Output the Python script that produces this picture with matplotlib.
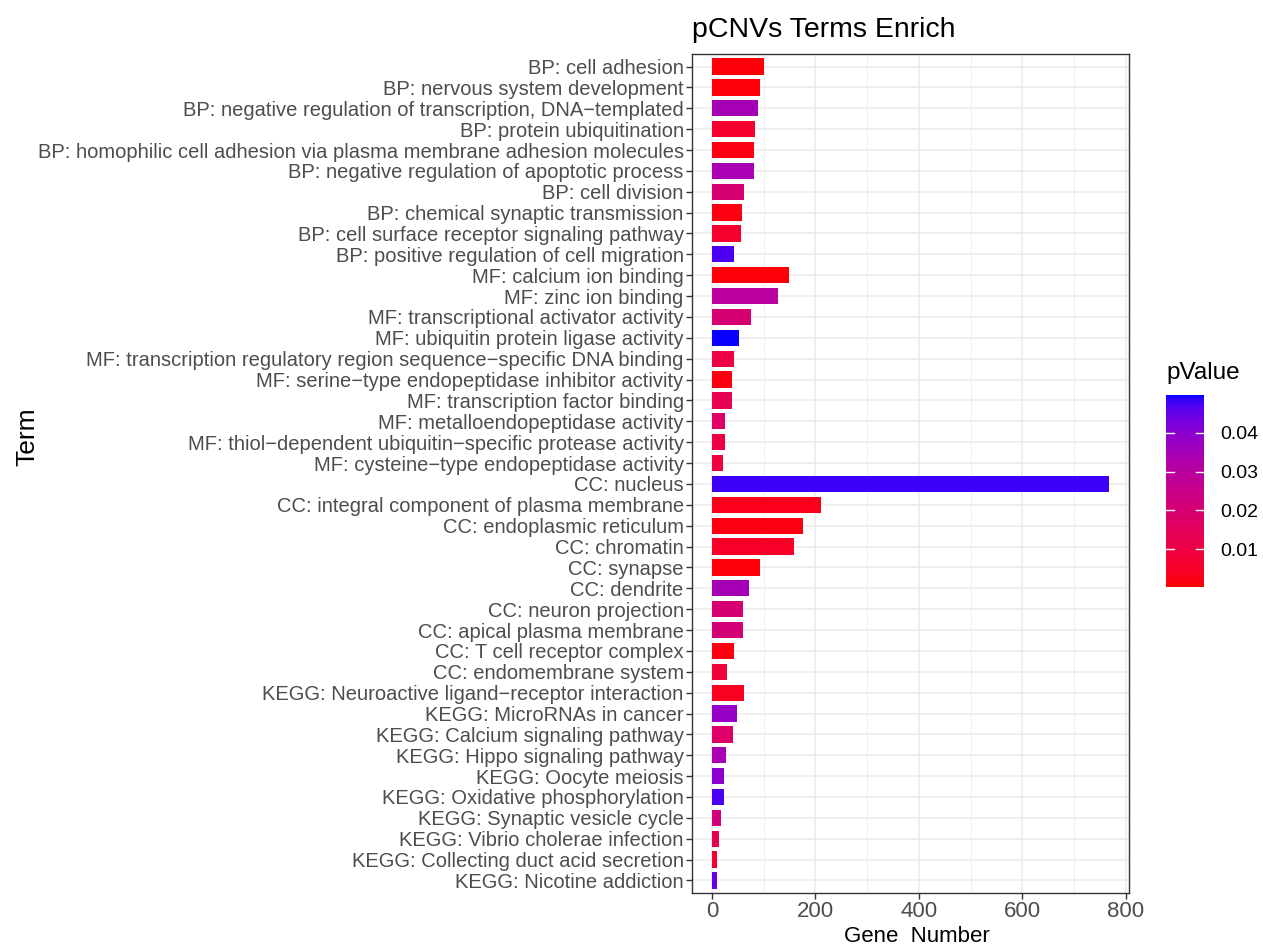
import numpy as np
import matplotlib
matplotlib.use("Agg")
import matplotlib.pyplot as plt
from matplotlib.colors import LinearSegmentedColormap, Normalize
from matplotlib.ticker import MultipleLocator

plt.rcParams['font.family'] = ['Liberation Sans', 'DejaVu Sans']

# data, top to bottom as drawn
terms = [
    'BP: cell adhesion',
    'BP: nervous system development',
    'BP: negative regulation of transcription, DNA\u2212templated',
    'BP: protein ubiquitination',
    'BP: homophilic cell adhesion via plasma membrane adhesion molecules',
    'BP: negative regulation of apoptotic process',
    'BP: cell division',
    'BP: chemical synaptic transmission',
    'BP: cell surface receptor signaling pathway',
    'BP: positive regulation of cell migration',
    'MF: calcium ion binding',
    'MF: zinc ion binding',
    'MF: transcriptional activator activity',
    'MF: ubiquitin protein ligase activity',
    'MF: transcription regulatory region sequence\u2212specific DNA binding',
    'MF: serine\u2212type endopeptidase inhibitor activity',
    'MF: transcription factor binding',
    'MF: metalloendopeptidase activity',
    'MF: thiol\u2212dependent ubiquitin\u2212specific protease activity',
    'MF: cysteine\u2212type endopeptidase activity',
    'CC: nucleus',
    'CC: integral component of plasma membrane',
    'CC: endoplasmic reticulum',
    'CC: chromatin',
    'CC: synapse',
    'CC: dendrite',
    'CC: neuron projection',
    'CC: apical plasma membrane',
    'CC: T cell receptor complex',
    'CC: endomembrane system',
    'KEGG: Neuroactive ligand\u2212receptor interaction',
    'KEGG: MicroRNAs in cancer',
    'KEGG: Calcium signaling pathway',
    'KEGG: Hippo signaling pathway',
    'KEGG: Oocyte meiosis',
    'KEGG: Oxidative phosphorylation',
    'KEGG: Synaptic vesicle cycle',
    'KEGG: Vibrio cholerae infection',
    'KEGG: Collecting duct acid secretion',
    'KEGG: Nicotine addiction',
]

gene_number = [100, 94, 89, 84, 82, 81, 62, 59, 57, 43,
               150, 127, 76, 53, 43, 39, 39, 26, 25, 22,
               768, 211, 177, 159, 93, 72, 61, 61, 43, 30,
               63, 49, 40, 28, 24, 24, 17, 13, 10, 10]

pvalue = [0.001, 0.001, 0.035, 0.006, 0.002, 0.034, 0.020, 0.002, 0.006, 0.047,
          0.001, 0.030, 0.020, 0.0495, 0.010, 0.002, 0.013, 0.017, 0.010, 0.009,
          0.048, 0.003, 0.002, 0.005, 0.001, 0.035, 0.020, 0.021, 0.002, 0.008,
          0.004, 0.038, 0.018, 0.034, 0.040, 0.047, 0.022, 0.013, 0.006, 0.045]

p_min, p_max = 0.0003, 0.0497


# red -> blue gradient interpolated in Lab like ggplot's scale_fill_gradient
def srgb_to_lab(rgb):
    c = np.asarray(rgb, float)
    lin = np.where(c <= 0.04045, c / 12.92, ((c + 0.055) / 1.055) ** 2.4)
    M = np.array([[0.4124, 0.3576, 0.1805],
                  [0.2126, 0.7152, 0.0722],
                  [0.0193, 0.1192, 0.9505]])
    xyz = M @ lin / np.array([0.95047, 1.0, 1.08883])
    f = np.where(xyz > 0.008856, np.cbrt(xyz), 7.787 * xyz + 16 / 116)
    return np.array([116 * f[1] - 16, 500 * (f[0] - f[1]), 200 * (f[1] - f[2])])


def lab_to_srgb(lab):
    L, a, b = lab
    fy = (L + 16) / 116
    fx = fy + a / 500
    fz = fy - b / 200
    f = np.array([fx, fy, fz])
    xyz = np.where(f ** 3 > 0.008856, f ** 3, (f - 16 / 116) / 7.787)
    xyz = xyz * np.array([0.95047, 1.0, 1.08883])
    Minv = np.array([[3.2406, -1.5372, -0.4986],
                     [-0.9689, 1.8758, 0.0415],
                     [0.0557, -0.2040, 1.0570]])
    lin = np.clip(Minv @ xyz, 0, 1)
    c = np.where(lin <= 0.0031308, 12.92 * lin, 1.055 * lin ** (1 / 2.4) - 0.055)
    return np.clip(c, 0, 1)


lab_lo = srgb_to_lab([1, 0, 0])
lab_hi = srgb_to_lab([0, 0, 1])
stops = [lab_to_srgb(lab_lo + t * (lab_hi - lab_lo)) for t in np.linspace(0, 1, 64)]
cmap = LinearSegmentedColormap.from_list('redblue', stops)
norm = Normalize(vmin=p_min, vmax=p_max)

W, H = 1263, 949
fig = plt.figure(figsize=(W / 100, H / 100), dpi=100)
ax = fig.add_axes([692 / W, 1 - 893 / H, (1129 - 692) / W, (893 - 54) / H])

n = len(terms)
ypos = np.arange(n)[::-1]
ax.barh(ypos, gene_number, height=0.78, color=cmap(norm(np.array(pvalue))),
        zorder=3)

xmax = max(gene_number)
ax.set_xlim(-0.05 * xmax, 1.05 * xmax)
ax.set_ylim(-0.6, n - 1 + 0.6)
ax.set_yticks(ypos)
ax.set_yticklabels(terms)
ax.xaxis.set_major_locator(MultipleLocator(200))
ax.xaxis.set_minor_locator(MultipleLocator(100))

ax.grid(True, which='major', color='#EBEBEB', linewidth=1.1, zorder=0)
ax.grid(True, which='minor', axis='x', color='#F0F0F0', linewidth=0.7, zorder=0)
ax.set_axisbelow(True)
for s in ax.spines.values():
    s.set_color('#333333')
    s.set_linewidth(1.0)

ax.tick_params(axis='both', which='major', length=4, width=1, color='#333333',
               labelcolor='#4D4D4D', labelsize=14.5, pad=2)
ax.tick_params(axis='x', labelsize=16, pad=2)
ax.tick_params(axis='x', which='minor', length=0)

fig.text(917 / W, 1 - 937 / H, 'Gene  Number', fontsize=16,
         ha='center', va='center')
fig.text(27 / W, 1 - 437 / H, 'Term', rotation=90, fontsize=19,
         ha='center', va='center')
fig.text(692 / W, 1 - 30 / H, 'pCNVs Terms Enrich', fontsize=20.5,
         ha='left', va='center')

# colour bar legend
cax = fig.add_axes([1166 / W, 1 - 587 / H, 38 / W, 192 / H])
grad = np.linspace(p_min, p_max, 256).reshape(-1, 1)
cax.imshow(grad, aspect='auto', cmap=cmap, norm=norm, origin='lower',
           extent=[0, 1, p_min, p_max])
cax.set_xlim(0, 1)
cax.set_ylim(p_min, p_max)
cax.set_xticks([])
cbar_ticks = [0.01, 0.02, 0.03, 0.04]
cax.set_yticks(cbar_ticks)
cax.set_yticklabels([f'{t:.2f}' for t in cbar_ticks])
cax.yaxis.tick_right()
cax.tick_params(axis='y', length=0, labelsize=14, labelcolor='black', pad=12)
for t in cbar_ticks:
    cax.plot([0, 0.2], [t, t], color='white', lw=1)
    cax.plot([0.8, 1], [t, t], color='white', lw=1)
for s in cax.spines.values():
    s.set_visible(False)
fig.text(1166 / W, 1 - 373 / H, 'pValue', fontsize=17.5, ha='left', va='center')

fig.savefig('out.png', dpi=100)
